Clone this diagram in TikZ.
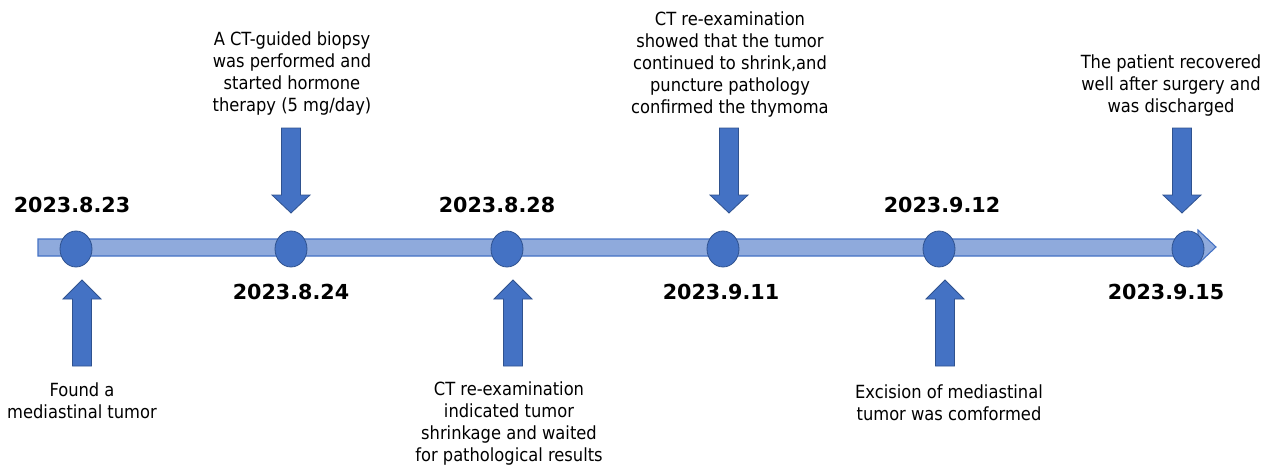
\documentclass[tikz,border=0pt]{standalone}
\usepackage{fontspec}
\setmainfont{DejaVu Sans Condensed}
\newfontfamily\datefont{DejaVu Sans}
\usepackage{xcolor}
\usepackage{tikz}
\usetikzlibrary{shapes.geometric}

\definecolor{barfill}{HTML}{8FAADC}
\definecolor{blockblue}{HTML}{4472C4}
\definecolor{edgeblue}{HTML}{2F528F}

\begin{document}
\begin{tikzpicture}[
    x=0.75pt, y=-0.75pt,
    dot/.style={ellipse, draw=edgeblue, fill=blockblue, line width=0.6pt, minimum width=24, minimum height=27, inner sep=0pt},
    date/.style={font=\datefont\fontsize{15.5}{18}\selectfont\bfseries, anchor=base, inner sep=0pt},
    event/.style={font=\fontsize{13.6}{16.5}\selectfont, align=center, anchor=north, inner sep=0pt},
    timebar/.style={draw=blockblue, fill=barfill, line width=0.8pt},
    uparrow/.pic={\draw[draw=edgeblue, fill=blockblue, line width=0.6pt]
        (0,0) -- (19,19) -- (9.5,19) -- (9.5,86) -- (-9.5,86) -- (-9.5,19) -- (-19,19) -- cycle;},
    downarrow/.pic={\draw[draw=edgeblue, fill=blockblue, line width=0.6pt]
        (0,0) -- (19,-18) -- (9.5,-18) -- (9.5,-85) -- (-9.5,-85) -- (-9.5,-18) -- (-19,-18) -- cycle;}
]
    \useasboundingbox (0,0) rectangle (1272,468);

    % time axis
    \draw[timebar] (38,239) -- (1198,239) -- (1198,230) -- (1216,247) -- (1198,264) -- (1198,256) -- (38,256) -- cycle;

    \node[dot] (dot1) at (76,249) {};
    \node[dot] (dot2) at (291,249) {};
    \node[dot] (dot3) at (507,249) {};
    \node[dot] (dot4) at (723,249) {};
    \node[dot] (dot5) at (939,249) {};
    \node[dot] (dot6) at (1188,249) {};

    % dates
    \node[date] (date1) at (72,212) {2023.8.23};
    \node[date] (date2) at (291,299) {2023.8.24};
    \node[date] (date3) at (497,212) {2023.8.28};
    \node[date] (date4) at (721,299) {2023.9.11};
    \node[date] (date5) at (942,212) {2023.9.12};
    \node[date] (date6) at (1166,299) {2023.9.15};

    % events
    \node[event] (ev1) at (82,382.5) {Found a\\mediastinal tumor};
    \node[event] (ev2) at (292,31.5) {A CT-guided biopsy\\was performed and\\started hormone\\therapy (5 mg/day)};
    \node[event] (ev3) at (509,381.5) {CT re-examination\\indicated tumor\\shrinkage and waited\\for pathological results};
    \node[event] (ev4) at (730,11.5) {CT re-examination\\showed that the tumor\\continued to shrink,and\\puncture pathology\\confirmed the thymoma};
    \node[event] (ev5) at (949,384.5) {Excision of mediastinal\\tumor was comformed};
    \node[event] (ev6) at (1171,54.5) {The patient recovered\\well after surgery and\\was discharged};

    \pic at (82,280) {uparrow};
    \pic at (291,213) {downarrow};
    \pic at (513,280) {uparrow};
    \pic at (729,213) {downarrow};
    \pic at (945,280) {uparrow};
    \pic at (1182,213) {downarrow};
\end{tikzpicture}
\end{document}
